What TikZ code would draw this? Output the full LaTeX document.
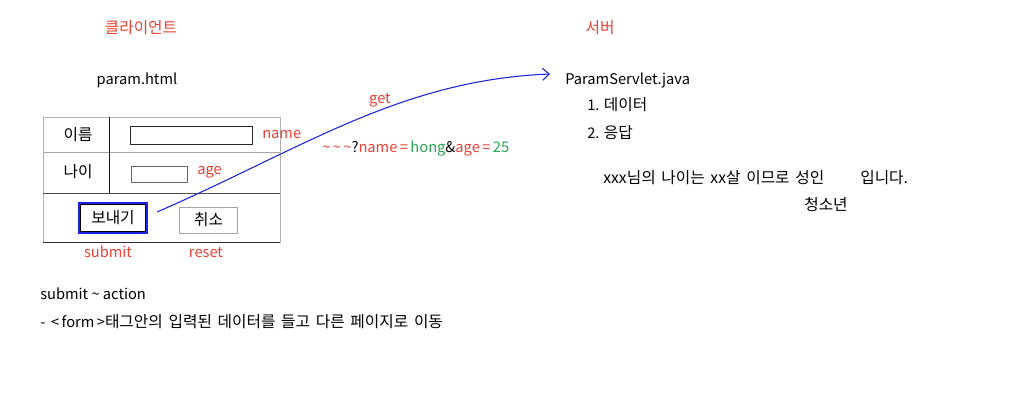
\documentclass[tikz,border=0pt]{standalone}
\usepackage{fontspec}
\setmainfont{Noto Sans CJK KR}
\usetikzlibrary{arrows.meta,positioning}
\definecolor{memored}{RGB}{235,64,52}
\definecolor{memogreen}{RGB}{40,165,80}
\definecolor{penblue}{RGB}{25,35,225}
\newcommand\kr[1]{{\fontsize{11.8}{14}\selectfont\spaceskip=0.36em #1}}

\begin{document}
\begin{tikzpicture}[x=0.75pt,y=-0.75pt,font=\fontsize{11}{13}\selectfont,
  note/.style={text=memored,inner sep=0pt},
  txt/.style={inner sep=0pt,anchor=west},
  sendbtn/.style={draw=penblue,line width=1.5pt,minimum width=51pt,minimum height=22.5pt,inner sep=0pt},
  resetbtn/.style={draw=gray!70,line width=0.6pt,minimum width=44pt,minimum height=19.5pt,inner sep=0pt}]
  \useasboundingbox (0,0) rectangle (1017,413);
  % client side
  \node[note] (client) at (141,28) {\kr{클라이언트}};
  \node[inner sep=0pt] (page) at (137,80) {param.html};
  \draw[gray!60,line width=0.6pt] (43,117) rectangle (280,242);
  \draw[gray!70] (43,152) -- (280,152);
  \draw[black!70] (43,193) -- (280,193);
  \draw[black!80] (43,242) -- (280,242);
  \draw[black!90] (109,117) -- (109,193);
  \node[inner sep=0pt] (lname) at (78,135) {\kr{이름}};
  \node[inner sep=0pt] (lage) at (78,172) {\kr{나이}};
  \draw[black!85,line width=0.6pt] (130,126) rectangle (252,144);
  \draw[black!60,line width=0.6pt] (131,166) rectangle (187,182);
  \node[note,anchor=west] (fname) at (262,135) {name};
  \node[note,anchor=west] (fage) at (197,172) {age};
  \node[sendbtn] (send) at (113,218) {\kr{보내기}};
  \draw[black,line width=0.6pt] ([shift={(1.6pt,-1.6pt)}]send.north west) rectangle ([shift={(-1.6pt,1.6pt)}]send.south east);
  \node[resetbtn] (cancel) at (208.5,220) {\kr{취소}};
  \node[note] (submit) at (108,252) {submit};
  \node[note] (reset) at (206,252) {reset};
  \node[txt] (memo1) at (40,294) {submit \textasciitilde\ action};
  \node[txt] (memo2) at (40,322) {-\ \,<\,form\,>\kr{태그안의 입력된 데이터를 들고 다른 페이지로 이동}};
  % request
  \coordinate (pen) at (157,212);
  \coordinate (tip) at (550,74);
  \draw[penblue,line width=0.8pt,-{Straight Barb[length=5pt,width=9pt]}]
    (pen) .. controls (300,150) and (400,80) .. (tip);
  \node[note] (get) at (380,100) {get};
  \node[txt] (query) at (322,148) {\textcolor{memored}{\textasciitilde\,\textasciitilde\,\textasciitilde}?\textcolor{memored}{name\,=\,}\textcolor{memogreen}{hong}\&\textcolor{memored}{age\,=\,}\textcolor{memogreen}{25}};
  % server side
  \node[note] (server) at (600,28) {\kr{서버}};
  \node[txt] (servlet) at (565,80) {ParamServlet.java};
  \node[txt] (step1) at (587,105) {1. \kr{데이터}};
  \node[txt] (step2) at (587,133) {2. \kr{응답}};
  \node[txt] (answer) at (603,178) {\kr{xxx님의 나이는 xx살 이므로 성인}};
  \node[txt] (tail) at (860,178) {\kr{입니다.}};
  \node[inner sep=0pt] (minor) at (826,205) {\kr{청소년}};
\end{tikzpicture}
\end{document}
